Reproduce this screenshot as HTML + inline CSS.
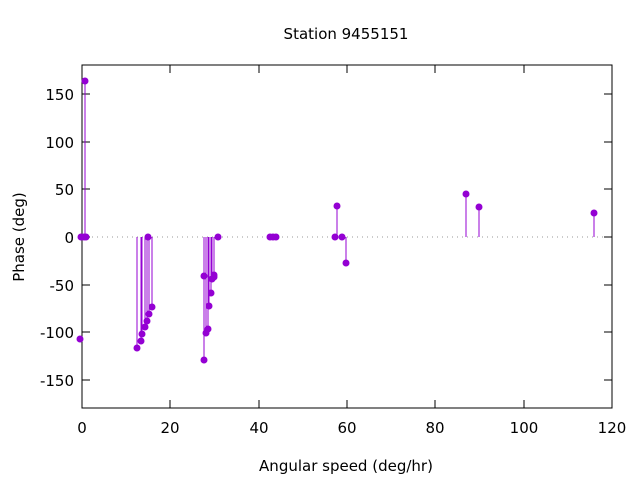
<!DOCTYPE html>
<html><head><style>body{margin:0;background:#fff}svg{display:block}text{font-family:"DejaVu Sans","Liberation Sans",sans-serif;font-size:15px;fill:#000}</style></head><body>
<svg width="640" height="480" xmlns="http://www.w3.org/2000/svg">
<defs><clipPath id="c"><rect x="75" y="60" width="545" height="350"/></clipPath></defs>
<text x="346" y="39" text-anchor="middle">Station 9455151</text>
<line x1="82" y1="237" x2="612" y2="237" stroke="#999" stroke-dasharray="1,4"/>
<g stroke="#000" stroke-width="1" fill="none">
<rect x="82" y="65" width="530" height="343"/>
<path d="M82 94h8M82 142h8M82 189h8M82 237h8M82 285h8M82 332h8M82 380h8M612 94h-8M612 142h-8M612 189h-8M612 237h-8M612 285h-8M612 332h-8M612 380h-8"/>
<path d="M170 408v-8M259 408v-8M347 408v-8M435 408v-8M524 408v-8M170 65v8M259 65v8M347 65v8M435 65v8M524 65v8"/>
</g>
<g text-anchor="end">
<text x="74" y="100">150</text><text x="74" y="148">100</text><text x="74" y="195">50</text><text x="74" y="243">0</text><text x="74" y="291">-50</text><text x="74" y="338">-100</text><text x="74" y="386">-150</text>
</g>
<g text-anchor="middle">
<text x="82" y="433">0</text><text x="170" y="433">20</text><text x="259" y="433">40</text><text x="347" y="433">60</text><text x="435" y="433">80</text><text x="524" y="433">100</text><text x="612" y="433">120</text>
<text x="346" y="471">Angular speed (deg/hr)</text>
<text transform="translate(24,237) rotate(-90)">Phase (deg)</text>
</g>
<g clip-path="url(#c)" stroke="#9400d3" stroke-width="1" fill="#9400d3">
<path d="M85 237V81M137 237V348M141 237V341M142 237V334M145 237V327M147 237V321M149 237V314M152 237V307M204 237V360M204 237V276M206 237V333M208 237V329M209 237V306M211 237V293M212 237V279M214 237V277M214 237V275M337 237V206M346 237V263M466 237V194M479 237V207M594 237V213"/>
<g stroke="none">
<circle cx="80" cy="339" r="3.5"/><circle cx="81" cy="237" r="3.5"/><circle cx="85" cy="81" r="3.5"/><circle cx="84" cy="237" r="3.5"/><circle cx="86" cy="237" r="3.5"/>
<circle cx="137" cy="348" r="3.5"/><circle cx="141" cy="341" r="3.5"/><circle cx="142" cy="334" r="3.5"/><circle cx="145" cy="327" r="3.5"/><circle cx="147" cy="321" r="3.5"/><circle cx="149" cy="314" r="3.5"/><circle cx="152" cy="307" r="3.5"/><circle cx="148" cy="237" r="3.5"/>
<circle cx="204" cy="360" r="3.5"/><circle cx="204" cy="276" r="3.5"/><circle cx="206" cy="333" r="3.5"/><circle cx="208" cy="329" r="3.5"/><circle cx="209" cy="306" r="3.5"/><circle cx="211" cy="293" r="3.5"/><circle cx="212" cy="279" r="3.5"/><circle cx="214" cy="277" r="3.5"/><circle cx="214" cy="275" r="3.5"/><circle cx="218" cy="237" r="3.5"/>
<circle cx="270" cy="237" r="3.5"/><circle cx="273" cy="237" r="3.5"/><circle cx="276" cy="237" r="3.5"/>
<circle cx="335" cy="237" r="3.5"/><circle cx="337" cy="206" r="3.5"/><circle cx="342" cy="237" r="3.5"/><circle cx="346" cy="263" r="3.5"/>
<circle cx="466" cy="194" r="3.5"/><circle cx="479" cy="207" r="3.5"/><circle cx="594" cy="213" r="3.5"/>
</g></g>
</svg>
</body></html>
